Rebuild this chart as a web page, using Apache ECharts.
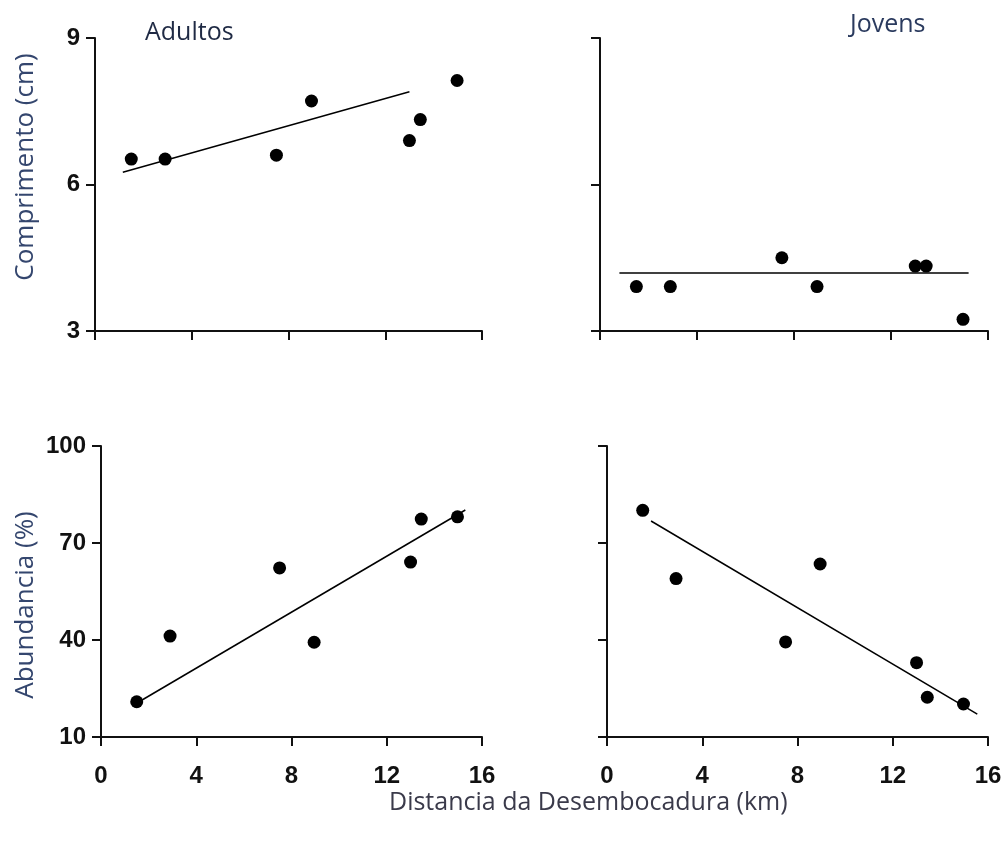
<!DOCTYPE html>
<html>
<head>
<meta charset="utf-8">
<script src="https://cdn.jsdelivr.net/npm/echarts@6/dist/echarts.min.js"></script>
<style>
html,body{margin:0;padding:0;background:#fff;}
#c{width:1006px;height:844px;}
</style>
</head>
<body>
<div id="c"></div>
<script>
// Distance (km) of each site
const distance = [1.5, 2.9, 7.5, 8.95, 13.0, 13.45, 14.97];
// Comprimento (cm)
const lenAdultos = [6.52, 6.52, 6.60, 7.71, 6.90, 7.33, 8.13];
const lenJovens  = [3.91, 3.91, 4.50, 3.91, 4.33, 4.33, 3.24];
// Abundancia (%)
const abAdultos = [20.9, 41.2, 62.3, 39.3, 64.1, 77.4, 78.1];
const abJovens  = [80.1, 59.0, 39.4, 63.5, 33.0, 22.3, 20.2];
// Trend line endpoints [x, y]
const trendLenAdultos = [[1.15, 6.25], [13.0, 7.90]];
const trendLenJovens  = [[0.8, 4.19], [15.2, 4.19]];
const trendAbAdultos  = [[1.6, 20.9], [15.3, 80.2]];
const trendAbJovens   = [[1.85, 76.8], [15.55, 17.1]];
// Axis ticks
const xTicks = [0, 4, 8, 12, 16];
const lenTicks = [3, 6, 9];
const abTicks = [10, 40, 70, 100];

const tickFont = "'Liberation Sans','Arial',sans-serif";
const textFont = "'Open Sans','Noto Sans',sans-serif";

function pair(xs, ys){ return xs.map((x,i)=>[x, ys[i]]); }

const axisLine = {show:true, lineStyle:{color:'#111', width:2}};
const axisTick = {show:true, inside:false, length:9, lineStyle:{color:'#111', width:2}};

function xAxis(grid, showLabels){
  return {
    type:'value', gridIndex:grid, min:xTicks[0], max:xTicks[xTicks.length-1], interval:4,
    axisLine, axisTick, splitLine:{show:false},
    axisLabel:{show:showLabels, margin:27, fontFamily:tickFont, fontWeight:'bold', fontSize:24, color:'#111'}
  };
}
function yAxis(grid, ticks, showLabels){
  return {
    type:'value', gridIndex:grid, min:ticks[0], max:ticks[ticks.length-1], interval:ticks[1]-ticks[0],
    axisLine, axisTick, splitLine:{show:false},
    axisLabel:{show:showLabels, margin:15, fontFamily:tickFont, fontWeight:'bold', fontSize:24, color:'#111'}
  };
}
function scatter(i, ys){
  return {type:'scatter', xAxisIndex:i, yAxisIndex:i, data:pair(distance, ys), symbolSize:13,
    itemStyle:{color:'#000', opacity:1}, z:3};
}
function trend(i, pts){
  return {type:'line', xAxisIndex:i, yAxisIndex:i, data:pts, symbol:'none',
    lineStyle:{color:'#000', width:1.5}, z:2};
}

const chart = echarts.init(document.getElementById('c'), null, {renderer:'canvas'});
chart.setOption({
  backgroundColor:'#fff',
  animation:false,
  grid:[
    {left:95, top:38, width:387, height:293},
    {left:600, top:38, width:388, height:293},
    {left:101, top:446, width:381, height:291},
    {left:607, top:446, width:381, height:291}
  ],
  xAxis:[xAxis(0,false), xAxis(1,false), xAxis(2,true), xAxis(3,true)],
  yAxis:[yAxis(0, lenTicks, true), yAxis(1, lenTicks, false), yAxis(2, abTicks, true), yAxis(3, abTicks, false)],
  series:[
    scatter(0, lenAdultos), trend(0, trendLenAdultos),
    scatter(1, lenJovens), trend(1, trendLenJovens),
    scatter(2, abAdultos), trend(2, trendAbAdultos),
    scatter(3, abJovens), trend(3, trendAbJovens)
  ],
  graphic:[
    {type:'text', left:145, top:20, style:{text:'Adultos', font:"25px 'Open Sans'", fill:'#1f2a44'}},
    {type:'text', left:850, top:12, style:{text:'Jovens', font:"25px 'Open Sans'", fill:'#2a3a5e'}},
    {type:'text', left:389, top:790, style:{text:'Distancia da Desembocadura (km)', font:"25px 'Open Sans'", fill:'#3a3a4a'}},
    {type:'text', x:26, y:167, rotation:Math.PI/2,
      style:{text:'Comprimento (cm)', font:"26px 'Open Sans'", fill:'#34466e', align:'center', verticalAlign:'middle'}},
    {type:'text', x:26, y:605, rotation:Math.PI/2,
      style:{text:'Abundancia (%)', font:"26px 'Open Sans'", fill:'#34466e', align:'center', verticalAlign:'middle'}}
  ]
});
</script>
</body>
</html>
